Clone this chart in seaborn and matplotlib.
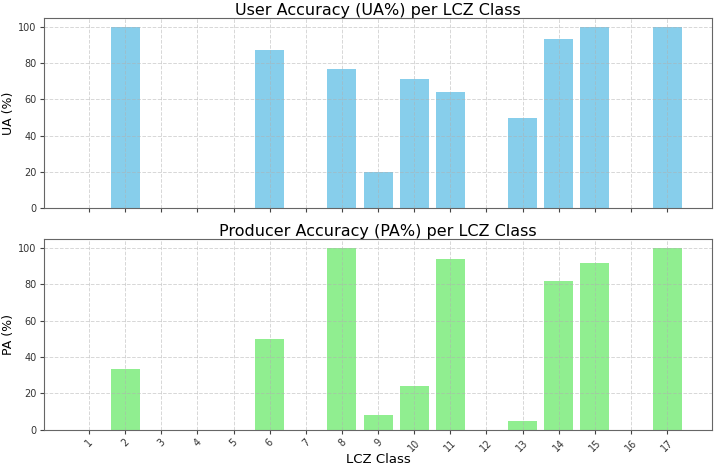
import seaborn as sns
import matplotlib.pyplot as plt
import pandas as pd

# LCZ classes and accuracies (%)
lcz_classes = list(range(1, 18))
ua_values = [0, 100, 0, 0, 0, 87, 0, 77, 20, 71.4, 64.3, 0, 50, 93.3, 100, 0, 100]
pa_values = [0, 33.3, 0, 0, 0, 50, 0, 100, 8.3, 23.8, 94, 0, 4.5, 82, 92, 0, 100]

df = pd.DataFrame({"LCZ": lcz_classes, "UA": ua_values, "PA": pa_values})

plt.rcParams["font.family"] = ["DejaVu Sans"]

fig, axes = plt.subplots(2, 1, figsize=(7.14, 4.67), dpi=100, sharex=True)

sns.barplot(data=df, x="LCZ", y="UA", color="skyblue", saturation=1,
            native_scale=True, width=0.8, edgecolor="none", ax=axes[0])
axes[0].set_title("User Accuracy (UA%) per LCZ Class", fontsize=11.5, pad=1)
axes[0].set_ylabel("UA (%)", fontsize=9, labelpad=2)
axes[0].set_xlabel("")

sns.barplot(data=df, x="LCZ", y="PA", color="lightgreen", saturation=1,
            native_scale=True, width=0.8, edgecolor="none", ax=axes[1])
axes[1].set_title("Producer Accuracy (PA%) per LCZ Class", fontsize=11.5, pad=1)
axes[1].set_ylabel("PA (%)", fontsize=9, labelpad=2)
axes[1].set_xlabel("LCZ Class", fontsize=9.5, labelpad=0)

for ax in axes:
    ax.set_xticks(lcz_classes)
    ax.set_xlim(-0.24, 18.24)
    ax.set_ylim(0, 105)
    ax.set_axisbelow("line")
    ax.grid(True, linestyle="--", color="#b0b0b0", linewidth=0.7, alpha=0.5)
    ax.tick_params(axis="both", labelsize=7, length=3, pad=2.5,
                   color="#444444", labelcolor="#333333")
    for s in ax.spines.values():
        s.set_color("#666666")
axes[1].set_xticklabels([str(c) for c in lcz_classes], rotation=45)

fig.subplots_adjust(left=0.062, right=0.997, top=0.962, bottom=0.08, hspace=0.16)
plt.savefig("out.png")
